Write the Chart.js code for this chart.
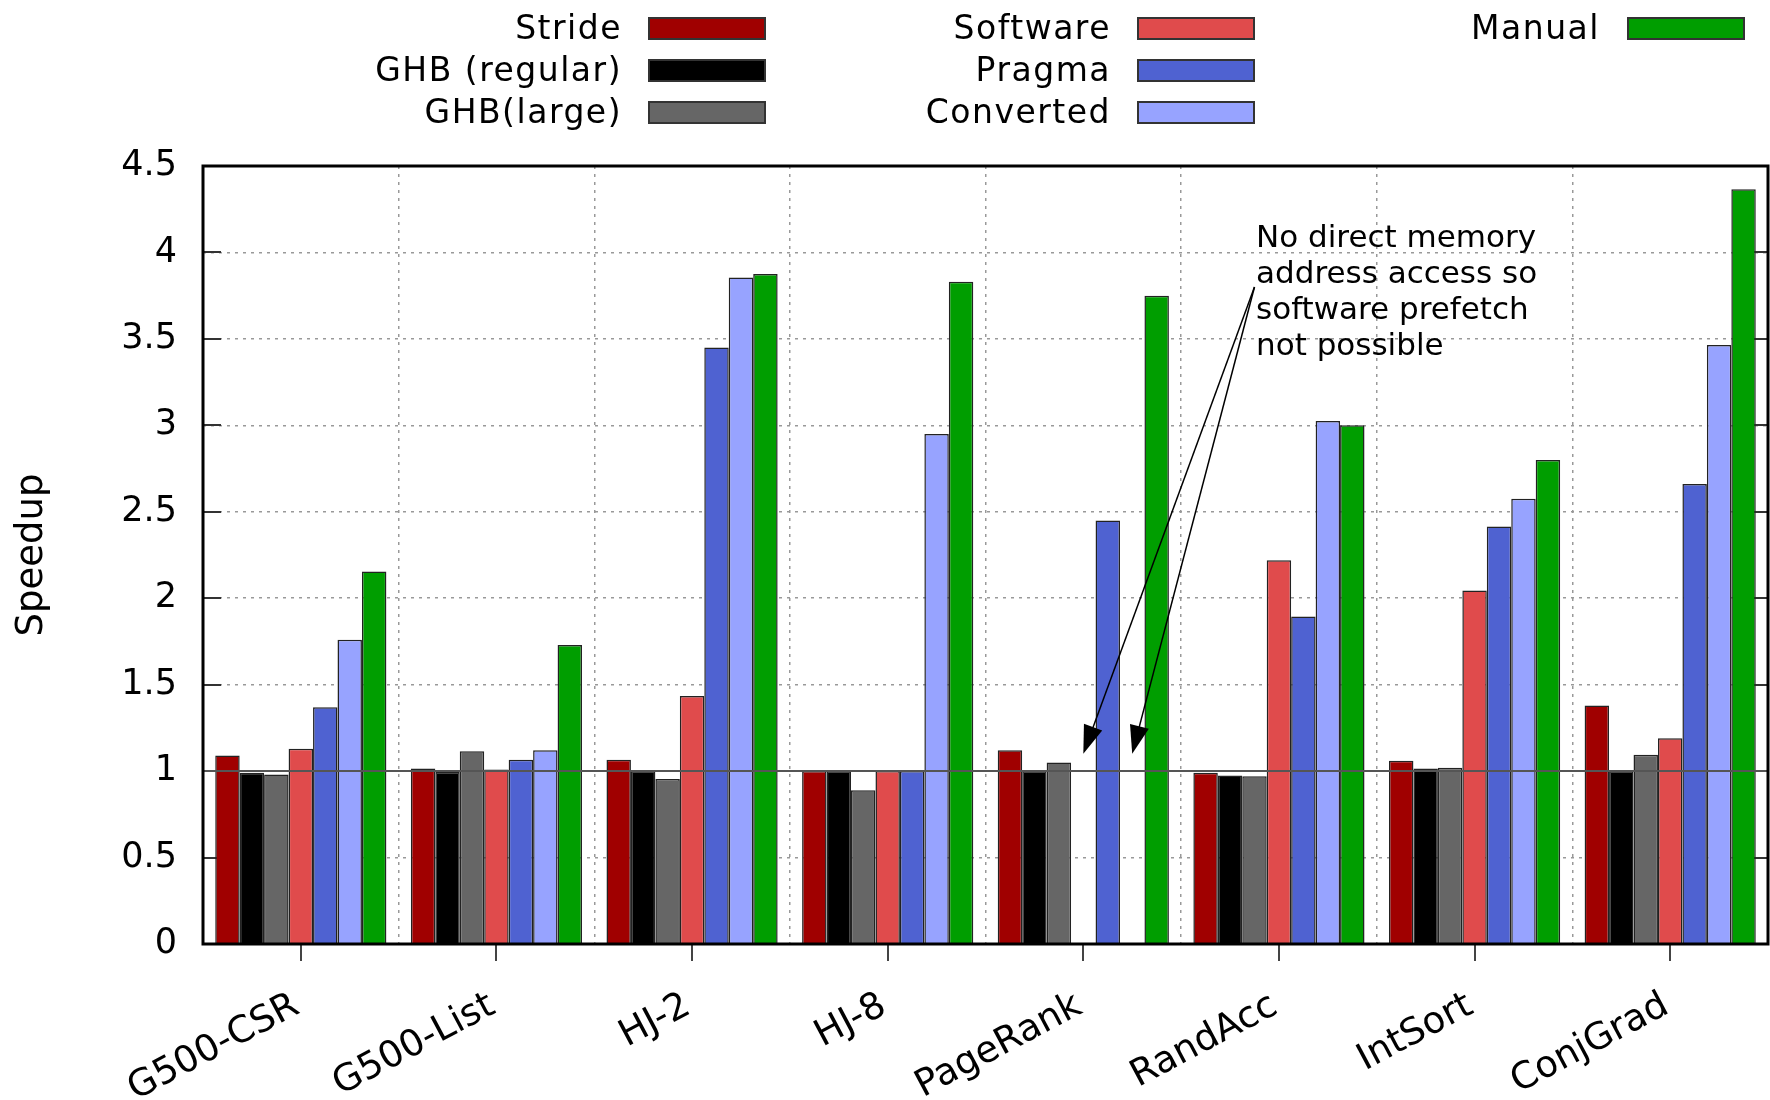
<!DOCTYPE html>
<html>
<head>
<meta charset="utf-8">
<script src="https://cdn.jsdelivr.net/npm/chart.js@4/dist/chart.umd.min.js"></script>
<style>
  html, body { margin: 0; background: #fff; }
  #wrap { width: 1770px; height: 1100px; }
</style>
</head>
<body>
<div id="wrap"><canvas id="c"></canvas></div>
<script>
// benchmarks on the x axis
const categories = ['G500-CSR', 'G500-List', 'HJ-2', 'HJ-8', 'PageRank', 'RandAcc', 'IntSort', 'ConjGrad'];

// speedup per scheme (null = no bar)
const stride     = [1.09, 1.015, 1.065, 1.0, 1.12, 0.99, 1.06, 1.38];
const ghbRegular = [0.99, 0.995, 1.0, 1.0, 1.0, 0.975, 1.015, 1.0];
const ghbLarge   = [0.98, 1.115, 0.955, 0.89, 1.05, 0.97, 1.02, 1.095];
const software   = [1.13, 1.01, 1.435, 1.0, null, 2.22, 2.045, 1.19];
const pragma     = [1.37, 1.065, 3.45, 1.0, 2.45, 1.895, 2.415, 2.66];
const converted  = [1.76, 1.12, 3.855, 2.95, null, 3.025, 2.575, 3.465];
const manual     = [2.155, 1.73, 3.875, 3.83, 3.75, 3.0, 2.8, 4.365];

const seriesNames = ['Stride', 'GHB (regular)', 'GHB(large)', 'Software', 'Pragma', 'Converted', 'Manual'];
const yTicks = [0, 0.5, 1, 1.5, 2, 2.5, 3, 3.5, 4, 4.5];
const noteLines = ['No direct memory', 'address access so', 'software prefetch', 'not possible'];

const seriesValues = [stride, ghbRegular, ghbLarge, software, pragma, converted, manual];
const colors = ['#a00000', '#000000', '#666666', '#e04b4c', '#4f62d1', '#97a3ff', '#009e00'];
const FONT = "'DejaVu Sans', sans-serif";

// legend: 3 columns, right aligned text then a swatch
const legendCols = [
  { textRight: 622, boxLeft: 649, items: [0, 1, 2] },
  { textRight: 1111, boxLeft: 1138, items: [3, 4, 5] },
  { textRight: 1600, boxLeft: 1628, items: [6] }
];
const legendRows = [39, 81, 123]; // baselines

function arrow(ctx, x0, y0, x1, y1) {
  const ang = Math.atan2(y1 - y0, x1 - x0);
  const len = 30, half = 0.33;
  ctx.beginPath();
  ctx.moveTo(x0, y0);
  ctx.lineTo(x1 - (len - 4) * Math.cos(ang), y1 - (len - 4) * Math.sin(ang));
  ctx.stroke();
  ctx.beginPath();
  ctx.moveTo(x1, y1);
  ctx.lineTo(x1 - len * Math.cos(ang - half), y1 - len * Math.sin(ang - half));
  ctx.lineTo(x1 - len * Math.cos(ang + half), y1 - len * Math.sin(ang + half));
  ctx.closePath();
  ctx.fill();
}

const extras = {
  id: 'extras',
  beforeDatasetsDraw(chart) {
    const { ctx, chartArea: a, scales: { x, y } } = chart;
    ctx.save();
    ctx.strokeStyle = '#333';
    ctx.lineWidth = 2;
    yTicks.forEach(v => {
      if (v === 0 || v === 4.5) return;
      const py = Math.round(y.getPixelForValue(v));
      ctx.beginPath();
      ctx.moveTo(a.left, py); ctx.lineTo(a.left + 18, py);
      ctx.moveTo(a.right, py); ctx.lineTo(a.right - 18, py);
      ctx.stroke();
    });
    ctx.strokeStyle = '#444';
    categories.forEach((c, i) => {
      const px = Math.round(x.getPixelForValue(i));
      ctx.beginPath();
      ctx.moveTo(px, a.bottom); ctx.lineTo(px, a.bottom + 17);
      ctx.stroke();
    });
    ctx.restore();
  },
  afterDatasetsDraw(chart) {
    const { ctx, chartArea: a, scales: { x, y } } = chart;
    ctx.save();
    // speedup = 1 reference line
    const p1 = Math.round(y.getPixelForValue(1));
    ctx.strokeStyle = '#555';
    ctx.lineWidth = 2;
    ctx.beginPath(); ctx.moveTo(a.left, p1); ctx.lineTo(a.right, p1); ctx.stroke();
    // frame
    ctx.strokeStyle = '#000';
    ctx.lineWidth = 3;
    ctx.strokeRect(a.left, a.top, a.right - a.left, a.bottom - a.top);

    // annotation for the PageRank gaps
    const tx = x.getPixelForValue(4.883);
    let ty = y.getPixelForValue(4.033);
    ctx.fillStyle = '#000';
    ctx.font = '31px ' + FONT;
    ctx.textAlign = 'left';
    ctx.textBaseline = 'alphabetic';
    noteLines.forEach(t => { ctx.fillText(t, tx, ty); ty += 36; });

    const ref = chart.getDatasetMeta(0).data[4];
    const w = ref.width;
    const ox = x.getPixelForValue(4.875), oy = y.getPixelForValue(3.8);
    const tipY = y.getPixelForValue(1.1);
    ctx.strokeStyle = '#000';
    ctx.lineWidth = 1.5;
    arrow(ctx, ox, oy, ref.x + 3 * w, tipY);
    arrow(ctx, ox, oy, ref.x + 5 * w, tipY);
    ctx.restore();
  },
  afterDraw(chart) {
    const { ctx } = chart;
    ctx.save();
    ctx.font = '33px ' + FONT;
    ctx.letterSpacing = '1.5px';
    ctx.textAlign = 'right';
    ctx.textBaseline = 'alphabetic';
    legendCols.forEach(col => {
      col.items.forEach((s, r) => {
        const base = legendRows[r];
        ctx.fillStyle = '#000';
        ctx.fillText(seriesNames[s], col.textRight, base);
        ctx.fillStyle = colors[s];
        ctx.fillRect(col.boxLeft, base - 21, 116, 21);
        ctx.strokeStyle = '#333';
        ctx.lineWidth = 2;
        ctx.strokeRect(col.boxLeft, base - 21, 116, 21);
      });
    });
    ctx.restore();
  }
};

new Chart(document.getElementById('c'), {
  type: 'bar',
  data: {
    labels: categories,
    datasets: seriesValues.map((vals, i) => ({
      label: seriesNames[i],
      data: vals,
      backgroundColor: colors[i],
      borderColor: '#222',
      borderWidth: 1.5,
      barPercentage: 1,
      categoryPercentage: 0.875
    }))
  },
  options: {
    responsive: true,
    maintainAspectRatio: false,
    animation: false,
    devicePixelRatio: 1,
    layout: { padding: { top: 166, right: 2, left: 0, bottom: 0 } },
    plugins: { legend: { display: false }, tooltip: { enabled: false } },
    scales: {
      x: {
        grid: { offset: true, drawTicks: false, color: '#999', lineWidth: 1.5 },
        border: { display: false, dash: [3, 5] },
        ticks: {
          font: { family: FONT, size: 37 }, color: '#000',
          minRotation: 28, maxRotation: 28, autoSkip: false,
          padding: 40, labelOffset: -4
        },
        afterFit(s) { s.height = 156; }
      },
      y: {
        min: 0, max: 4.5,
        afterBuildTicks(s) { s.ticks = yTicks.map(v => ({ value: v })); },
        grid: {
          drawTicks: false, lineWidth: 1.5,
          color: c => (c.tick && (c.tick.value === 0 || c.tick.value === 4.5)) ? 'rgba(0,0,0,0)' : '#999'
        },
        border: { display: false, dash: [3, 5] },
        ticks: { font: { family: FONT, size: 35 }, color: '#000', padding: 26, callback: v => String(v) },
        title: { display: true, text: 'Speedup', color: '#000', font: { family: FONT, size: 37 }, padding: { top: 10 } },
        afterFit(s) { s.width = 203; }
      }
    }
  },
  plugins: [extras]
});
</script>
</body>
</html>
